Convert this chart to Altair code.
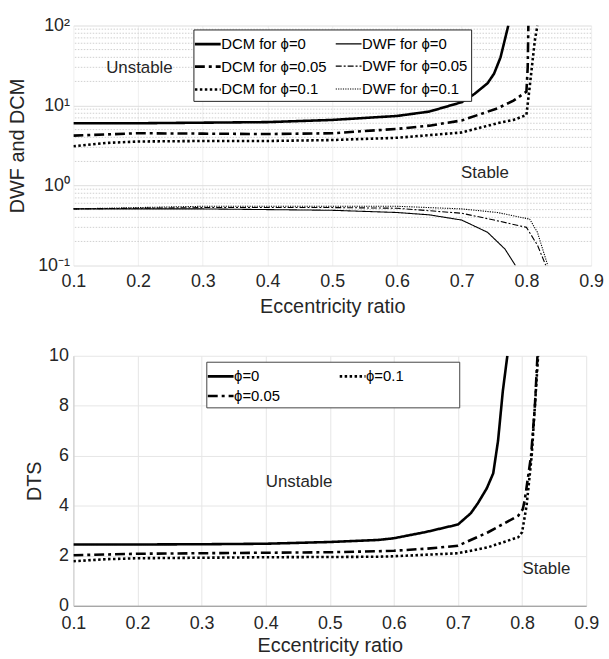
import altair as alt
import pandas as pd

FONT = "Liberation Sans"
INK = "#262626"

# ---------------- upper panel: DWF and DCM (log scale) ----------------
dcm0_x = [0.1, 0.2, 0.3, 0.4, 0.5, 0.6, 0.65, 0.7, 0.72, 0.74, 0.75, 0.76, 0.772]
dcm0_y = [6.0, 6.0, 6.1, 6.2, 6.6, 7.4, 8.4, 11.0, 14.0, 19.0, 25.0, 40.0, 100.0]

dcm05_x = [0.1, 0.15, 0.2, 0.3, 0.4, 0.5, 0.6, 0.65, 0.7, 0.755, 0.78, 0.8, 0.802, 0.803]
dcm05_y = [4.2, 4.35, 4.5, 4.45, 4.4, 4.5, 5.1, 5.6, 6.5, 9.2, 11.5, 14.9, 30.0, 100.0]

dcm10_x = [0.1, 0.15, 0.2, 0.3, 0.4, 0.5, 0.6, 0.7, 0.755, 0.78, 0.8, 0.805, 0.813, 0.817]
dcm10_y = [3.1, 3.4, 3.55, 3.6, 3.6, 3.7, 3.95, 4.6, 6.0, 6.6, 7.6, 17.0, 65.0, 100.0]

dwf0_x = [0.1, 0.2, 0.3, 0.4, 0.5, 0.6, 0.65, 0.7, 0.74, 0.767, 0.783]
dwf0_y = [0.51, 0.51, 0.51, 0.5, 0.49, 0.46, 0.43, 0.37, 0.26, 0.16, 0.1]

dwf05_x = [0.1, 0.2, 0.3, 0.4, 0.5, 0.6, 0.7, 0.75, 0.8, 0.817, 0.83]
dwf05_y = [0.51, 0.52, 0.53, 0.53, 0.53, 0.52, 0.45, 0.37, 0.30, 0.18, 0.1]

dwf10_x = [0.1, 0.2, 0.3, 0.4, 0.5, 0.6, 0.7, 0.755, 0.805, 0.817, 0.833]
dwf10_y = [0.51, 0.53, 0.55, 0.55, 0.55, 0.55, 0.51, 0.46, 0.38, 0.26, 0.1]

# legend fills column by column: DCM curves left, DWF curves right
top_series = [
    ("DCM for ϕ=0", dcm0_x, dcm0_y),
    ("DCM for ϕ=0.05", dcm05_x, dcm05_y),
    ("DCM for ϕ=0.1", dcm10_x, dcm10_y),
    ("DWF for ϕ=0", dwf0_x, dwf0_y),
    ("DWF for ϕ=0.05", dwf05_x, dwf05_y),
    ("DWF for ϕ=0.1", dwf10_x, dwf10_y),
]
top_names = [s[0] for s in top_series]
top_dash = [[1, 0], [10, 4, 3, 4], [2.5, 2.5], [1, 0], [6, 2, 2, 2], [1.2, 1.2]]
top_width = [2.6, 2.6, 2.6, 1.1, 1.1, 1.1]

top_rows = []
for name, xs, ys in top_series:
    for i, (x, y) in enumerate(zip(xs, ys)):
        top_rows.append({"series": name, "e": x, "v": y, "i": i})
top_df = pd.DataFrame(top_rows)

major_ticks = [0.1, 1, 10, 100]
minor_ticks = [0.2, 0.3, 0.4, 0.5, 0.6, 0.7, 0.8, 0.9,
               2, 3, 4, 5, 6, 7, 8, 9,
               20, 30, 40, 50, 60, 70, 80, 90]
x_ticks = [0.1, 0.2, 0.3, 0.4, 0.5, 0.6, 0.7, 0.8, 0.9]

top_notes = pd.DataFrame({"e": [0.202, 0.736], "v": [29.0, 1.43],
                          "t": ["Unstable", "Stable"]})


def series_legend(x, y, col_pad, row_pad, stroke, label_expr=None, stroke_width=None):
    opts = dict(title=None, orient="none", legendX=x, legendY=y,
                columns=2, columnPadding=col_pad, rowPadding=row_pad,
                symbolType="M-1.3,0H1.3", symbolSize=400,
                symbolStrokeColor="black",
                labelFontSize=15, labelFont=FONT, labelColor="black",
                labelOffset=2, padding=3,
                strokeColor=stroke, fillColor="white")
    if label_expr:
        opts["labelExpr"] = label_expr
    if stroke_width:
        opts["symbolStrokeWidth"] = stroke_width
    return alt.Legend(**opts)


x_top = alt.X("e:Q", scale=alt.Scale(domain=[0.1, 0.9], nice=False),
              axis=alt.Axis(values=x_ticks, format=".1f", title="Eccentricity ratio",
                            grid=True, gridColor="#efefef", domain=False, labelFlush=False,
                            ticks=False, labelPadding=7, titlePadding=6))
y_top = alt.Y("v:Q", scale=alt.Scale(type="log", domain=[0.1, 100], nice=False),
              axis=alt.Axis(values=major_ticks, title="DWF and DCM",
                            labelExpr="datum.value >= 100 ? '10²' : datum.value >= 10 ? '10¹' : datum.value >= 1 ? '10⁰' : '10⁻¹'",
                            grid=True, gridColor="#dedede", domain=False, labelFlush=False,
                            ticks=False, labelPadding=4, titlePadding=10))

minor_grid = alt.Chart(pd.DataFrame({"v": minor_ticks})).mark_rule(
    color="#c4c4c4", strokeDash=[1.5, 1.5], strokeWidth=0.8
).encode(y=alt.Y("v:Q", scale=alt.Scale(type="log", domain=[0.1, 100], nice=False)))

top_leg = series_legend(121, 4, 6, 3, "#222")
top_lines = alt.Chart(top_df).mark_line(clip=True, color="black").encode(
    x=x_top,
    y=y_top,
    order="i:Q",
    strokeDash=alt.StrokeDash("series:N", sort=top_names,
                              scale=alt.Scale(type="ordinal", domain=top_names, range=top_dash),
                              legend=top_leg),
    strokeWidth=alt.StrokeWidth("series:N", sort=top_names,
                                scale=alt.Scale(type="ordinal", domain=top_names, range=top_width),
                                legend=top_leg),
)

top_text = alt.Chart(top_notes).mark_text(font=FONT, fontSize=17, color=INK).encode(
    x="e:Q", y=alt.Y("v:Q", scale=alt.Scale(type="log")), text="t:N")

top = alt.layer(minor_grid, top_lines, top_text).properties(width=522, height=242)

# ---------------- lower panel: DTS ----------------
dts0_x = [0.1, 0.2, 0.3, 0.4, 0.5, 0.575, 0.6, 0.65, 0.7, 0.72, 0.731, 0.745, 0.755, 0.7625, 0.77, 0.777]
dts0_y = [2.45, 2.45, 2.46, 2.48, 2.55, 2.63, 2.7, 2.95, 3.25, 3.7, 4.1, 4.7, 5.3, 6.6, 8.6, 10.0]

dts05_x = [0.1, 0.2, 0.3, 0.4, 0.5, 0.575, 0.6, 0.65, 0.7, 0.747, 0.794, 0.801, 0.804, 0.814, 0.82, 0.824]
dts05_y = [2.02, 2.08, 2.1, 2.12, 2.14, 2.18, 2.2, 2.28, 2.4, 2.94, 3.6, 3.86, 4.2, 6.0, 8.0, 10.0]

dts10_x = [0.1, 0.15, 0.2, 0.3, 0.4, 0.5, 0.575, 0.6, 0.7, 0.747, 0.794, 0.8, 0.807, 0.815, 0.82, 0.825]
dts10_y = [1.78, 1.86, 1.9, 1.92, 1.94, 1.95, 1.96, 1.98, 2.1, 2.34, 2.74, 2.94, 4.0, 6.0, 8.0, 10.0]

bottom_series = [
    ("ϕ=0", dts0_x, dts0_y),
    ("ϕ=0.05", dts05_x, dts05_y),
    ("ϕ=0.1", dts10_x, dts10_y),
]
bottom_names = [s[0] for s in bottom_series]
bottom_dash = [[1, 0], [10, 4, 3, 4], [2.5, 2.5]]

bottom_rows = []
for name, xs, ys in bottom_series:
    for i, (x, y) in enumerate(zip(xs, ys)):
        bottom_rows.append({"curve": name, "e": x, "d": y, "i": i})
bottom_df = pd.DataFrame(bottom_rows)

bottom_notes = pd.DataFrame({"e": [0.452, 0.838], "d": [4.94, 1.48],
                             "t": ["Unstable", "Stable"]})

# the right column label carries trailing blank space (closed by a zero-width
# character so it is not trimmed) so the frame reaches its full width
pad = "\u2003" * 3 + "\u2002" + "\u200b"
bottom_leg = series_legend(134, 6, 54, 0, "#444",
                           label_expr="datum.label == 'ϕ=0.1' ? datum.label + '" + pad + "' : datum.label",
                           stroke_width=2.6)
bottom_lines = alt.Chart(bottom_df).mark_line(clip=True, color="black", strokeWidth=2.6).encode(
    x=alt.X("e:Q", scale=alt.Scale(domain=[0.1, 0.9], nice=False),
            axis=alt.Axis(values=x_ticks, format=".1f", title="Eccentricity ratio",
                          grid=True, gridColor="#e6e6e6", domain=True, domainColor="#8c8c8c",
                          labelFlush=False, ticks=False, labelPadding=9, titlePadding=3)),
    y=alt.Y("d:Q", scale=alt.Scale(domain=[0, 10], nice=False),
            axis=alt.Axis(values=[0, 2, 4, 6, 8, 10], title="DTS",
                          grid=True, gridColor="#e6e6e6", domain=True, domainColor="#c8c8c8",
                          labelFlush=False, ticks=False, labelPadding=5, titlePadding=4)),
    order="i:Q",
    strokeDash=alt.StrokeDash("curve:N", sort=bottom_names,
                              scale=alt.Scale(type="ordinal", domain=bottom_names, range=bottom_dash),
                              legend=bottom_leg),
)

bottom_text = alt.Chart(bottom_notes).mark_text(font=FONT, fontSize=17, color=INK).encode(
    x="e:Q", y="d:Q", text="t:N")

bottom = alt.layer(bottom_lines, bottom_text).properties(width=517, height=252)

chart = alt.vconcat(top, bottom, spacing=31).resolve_scale(
    strokeDash="independent", strokeWidth="independent"
).resolve_legend(
    strokeDash="independent", strokeWidth="independent"
).configure(
    font=FONT,
    padding={"left": 7, "top": 14, "right": 5, "bottom": 0},
).configure_view(stroke=None).configure_axis(
    labelFont=FONT, labelFontSize=18, labelColor=INK,
    titleFont=FONT, titleFontSize=20, titleColor=INK, titleFontWeight="normal",
)

chart.save("out.html", embed_options={"renderer": "svg", "actions": False})
